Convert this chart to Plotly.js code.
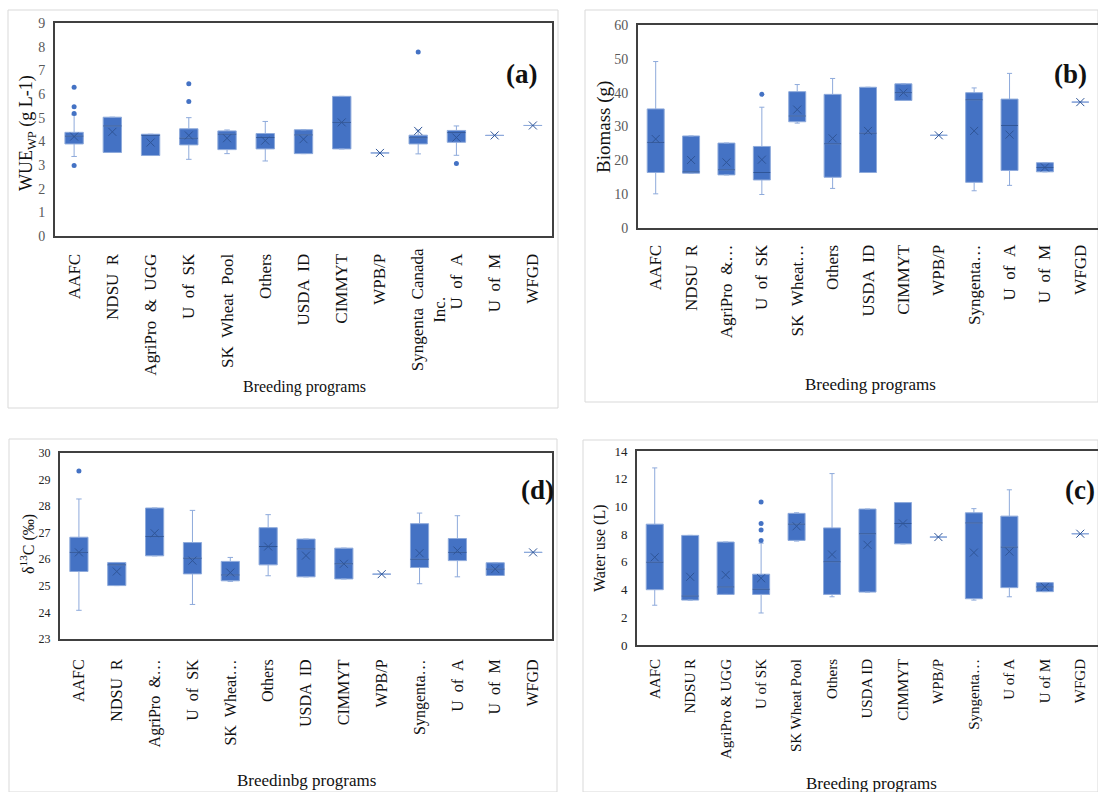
<!DOCTYPE html>
<html>
<head>
<meta charset="utf-8">
<script src="https://cdn.plot.ly/plotly-3.0.1.min.js"></script>
<style>html,body{margin:0;padding:0;background:#fff;}#chart{width:1098px;height:792px;}</style>
</head>
<body>
<div id="chart"></div>
<script>
// ---------- Categories ----------
const catA = ["AAFC","NDSU R","AgriPro & UGG","U of SK","SK Wheat Pool","Others","USDA ID","CIMMYT","WPB/P","Syngenta Canada<br>Inc.","U of A","U of M","WFGD"];
const catB = ["AAFC","NDSU R","AgriPro &…","U of SK","SK Wheat…","Others","USDA ID","CIMMYT","WPB/P","Syngenta…","U of A","U of M","WFGD"];
const catD = ["AAFC","NDSU R","AgriPro &…","U of SK","SK Wheat…","Others","USDA ID","CIMMYT","WPB/P","Syngenta…","U of A","U of M","WFGD"];
const catC = ["AAFC","NDSU R","AgriPro & UGG","U of SK","SK Wheat Pool","Others","USDA ID","CIMMYT","WPB/P","Syngenta…","U of A","U of M","WFGD"];

// ---------- (a) WUE ----------
const aQ1   = [3.89, 3.53, 3.40, 3.85, 3.65, 3.68, 3.48, 3.68, 3.51, 3.89, 3.96, 4.25, 4.67];
const aMed  = [4.22, 4.65, 4.25, 4.13, 4.30, 4.16, 4.27, 4.80, 3.51, 4.15, 4.37, 4.25, 4.67];
const aQ3   = [4.38, 5.02, 4.30, 4.53, 4.44, 4.33, 4.49, 5.90, 3.51, 4.26, 4.46, 4.25, 4.67];
const aLo   = [3.36, 3.53, 3.40, 3.24, 3.48, 3.17, 3.48, 3.68, 3.51, 3.47, 3.41, 4.25, 4.67];
const aHi   = [5.12, 5.02, 4.30, 5.00, 4.48, 4.84, 4.49, 5.90, 3.51, 4.48, 4.65, 4.25, 4.67];
const aMean = [4.20, 4.40, 3.95, 4.25, 4.13, 4.03, 4.09, 4.80, 3.51, 4.44, 4.16, 4.25, 4.67];
const aOutX = ["AAFC","AAFC","AAFC","AAFC","U of SK","U of SK","Syngenta Canada<br>Inc.","U of A"];
const aOutY = [6.29, 5.46, 5.18, 2.98, 5.68, 6.43, 7.77, 3.06];

// ---------- (b) Biomass ----------
const bQ1   = [16.4, 16.2, 15.7, 14.2, 31.4, 15.0, 16.4, 37.7, 27.4, 13.5, 17.0, 16.6, 37.2];
const bMed  = [25.3, 16.6, 17.2, 16.4, 33.1, 24.9, 28.0, 40.0, 27.4, 37.9, 30.3, 17.9, 37.2];
const bQ3   = [35.2, 27.2, 25.1, 24.1, 40.3, 39.5, 41.6, 42.6, 27.4, 40.0, 38.1, 19.3, 37.2];
const bLo   = [10.1, 16.2, 15.7, 9.9, 31.0, 11.7, 16.4, 37.7, 27.4, 11.0, 12.6, 16.6, 37.2];
const bHi   = [49.2, 27.2, 25.1, 35.7, 42.4, 44.2, 41.6, 42.6, 27.4, 41.4, 45.7, 19.3, 37.2];
const bMean = [26.3, 20.1, 19.4, 20.2, 35.0, 26.5, 28.7, 40.0, 27.4, 28.7, 27.6, 17.9, 37.2];
const bOutX = ["U of SK"];
const bOutY = [39.5];

// ---------- (d) delta13C ----------
const dQ1   = [25.54, 25.01, 26.13, 25.45, 25.19, 25.79, 25.34, 25.26, 25.44, 25.69, 25.95, 25.39, 26.26];
const dMed  = [26.26, 25.79, 26.86, 26.04, 25.41, 26.48, 26.39, 25.83, 25.44, 26.00, 26.26, 25.63, 26.26];
const dQ3   = [26.83, 25.88, 27.93, 26.63, 25.92, 27.19, 26.76, 26.42, 25.44, 27.34, 26.78, 25.87, 26.26];
const dLo   = [24.08, 25.01, 26.13, 24.30, 25.17, 25.38, 25.34, 25.26, 25.44, 25.08, 25.34, 25.39, 26.26];
const dHi   = [28.27, 25.88, 27.93, 27.84, 26.07, 27.68, 26.76, 26.42, 25.44, 27.74, 27.64, 25.87, 26.26];
const dMean = [26.26, 25.54, 26.98, 25.95, 25.50, 26.48, 26.14, 25.83, 25.44, 26.23, 26.33, 25.63, 26.26];
const dOutX = ["AAFC"];
const dOutY = [29.32];

// ---------- (c) Water use ----------
const cQ1   = [3.99, 3.24, 3.65, 3.65, 7.55, 3.65, 3.82, 7.30, 7.79, 3.34, 4.14, 3.85, 8.03];
const cMed  = [5.97, 3.53, 4.19, 4.02, 8.72, 6.01, 8.03, 8.77, 7.79, 8.81, 7.06, 4.19, 8.03];
const cQ3   = [8.72, 7.91, 7.43, 5.11, 9.50, 8.45, 9.81, 10.28, 7.79, 9.54, 9.30, 4.50, 8.03];
const cLo   = [2.87, 3.24, 3.65, 2.31, 7.50, 3.48, 3.82, 7.30, 7.79, 3.24, 3.48, 3.85, 8.03];
const cHi   = [12.78, 7.91, 7.43, 7.35, 9.54, 12.37, 9.81, 10.28, 7.79, 9.84, 11.20, 4.50, 8.03];
const cMean = [6.33, 4.92, 5.06, 4.82, 8.57, 6.53, 7.23, 8.77, 7.79, 6.67, 6.74, 4.19, 8.03];
const cOutX = ["U of SK","U of SK","U of SK","U of SK"];
const cOutY = [7.55, 8.30, 8.77, 10.32];

// ---------- Styles ----------
const BOX_FILL = '#4472c4';
const BOX_LINE = '#8eaadb';
const DARK = '#2f5597';
const SERIF = 'Liberation Serif, Times New Roman, serif';
const W = 1098, H = 792;
const px = x => x / W;
const py = y => 1 - y / H;
const NB = '\u00a0';

// wider word spacing (as in the original Excel rendering)
const spaced = s => s.replace(/ /g, ' ' + NB);
const plain = s => s;

function panel(cats, q1, med, q3, lo, hi, mean, outX, outY, xa, ya, medSize) {
  const traces = [];
  traces.push({
    type: 'box', x: cats, q1: q1, median: med, q3: q3, lowerfence: lo, upperfence: hi,
    xaxis: xa, yaxis: ya, fillcolor: BOX_FILL, line: {color: BOX_LINE, width: 1},
    whiskerwidth: 0.3, width: 0.48, boxpoints: false, hoverinfo: 'skip', showlegend: false
  });
  const mx = [], my = [];
  cats.forEach((c, i) => { if (q3[i] > q1[i]) { mx.push(c); my.push(med[i]); } });
  traces.push({
    type: 'scatter', mode: 'markers', x: mx, y: my, xaxis: xa, yaxis: ya,
    marker: {symbol: 'line-ew', size: medSize, color: DARK, line: {color: DARK, width: 1}},
    hoverinfo: 'skip', showlegend: false
  });
  traces.push({
    type: 'scatter', mode: 'markers', x: cats, y: mean, xaxis: xa, yaxis: ya,
    marker: {symbol: 'x-thin', size: 8, color: DARK, line: {color: DARK, width: 1}},
    hoverinfo: 'skip', showlegend: false
  });
  traces.push({
    type: 'scatter', mode: 'markers', x: outX, y: outY, xaxis: xa, yaxis: ya,
    marker: {symbol: 'circle', size: 5, color: BOX_FILL},
    hoverinfo: 'skip', showlegend: false
  });
  return traces;
}

const data = [].concat(
  panel(catA, aQ1, aMed, aQ3, aLo, aHi, aMean, aOutX, aOutY, 'x', 'y', 13),
  panel(catB, bQ1, bMed, bQ3, bLo, bHi, bMean, bOutX, bOutY, 'x2', 'y2', 12),
  panel(catD, dQ1, dMed, dQ3, dLo, dHi, dMean, dOutX, dOutY, 'x3', 'y3', 13),
  panel(catC, cQ1, cMed, cQ3, cLo, cHi, cMean, cOutX, cOutY, 'x4', 'y4', 12)
);

function xAxis(dom, anchor, cats, fsize, standoff, fmt) {
  // two-line labels are drawn as a centred annotation instead of a tick label
  const tt = cats.map(s => (s.indexOf('<br>') >= 0 ? '' : fmt(s)));
  return {
    domain: dom, anchor: anchor, type: 'category', categoryorder: 'array', categoryarray: cats,
    range: [-0.5, cats.length - 0.5], tickmode: 'array', tickvals: cats, ticktext: tt,
    showline: true, mirror: true, linecolor: '#404040', linewidth: 2,
    showgrid: false, zeroline: false, ticks: '', tickangle: -90,
    tickfont: {family: SERIF, size: fsize, color: '#111'}, ticklabelstandoff: standoff, fixedrange: true
  };
}
function yAxis(dom, anchor, range, dtick, fsize, fcolor) {
  return {
    domain: dom, anchor: anchor, range: range, dtick: dtick, tick0: range[0],
    showline: true, mirror: true, linecolor: '#404040', linewidth: 2,
    showgrid: false, zeroline: false, ticks: '',
    tickfont: {family: SERIF, size: fsize, color: fcolor}, ticklabelstandoff: 5, fixedrange: true
  };
}

const frame = (x0, y0, x1, y1) => ({
  type: 'rect', xref: 'paper', yref: 'paper', x0: px(x0), x1: px(x1), y0: py(y1), y1: py(y0),
  line: {color: '#d9d9d9', width: 1}, fillcolor: 'rgba(0,0,0,0)', layer: 'below'
});
const ann = (text, x, y, size, opts) => Object.assign({
  text: text, xref: 'paper', yref: 'paper', x: px(x), y: py(y), xanchor: 'center', yanchor: 'middle',
  showarrow: false, font: {family: SERIF, size: size, color: '#111'}
}, opts || {});

// two-line category label of panel (a): first line under its tick, second line centred beside it
const wrapped = catA.filter(s => s.indexOf('<br>') >= 0).map(s => ({
  text: spaced(s), xref: 'x', yref: 'paper', x: s, xshift: 10, y: py(310),
  xanchor: 'center', yanchor: 'middle', textangle: -90, align: 'center', showarrow: false,
  font: {family: SERIF, size: 17, color: '#111'}
}));

const layout = {
  width: W, height: H, margin: {l: 0, r: 0, t: 0, b: 0},
  paper_bgcolor: '#ffffff', plot_bgcolor: '#ffffff', showlegend: false, boxmode: 'overlay',
  xaxis:  xAxis([px(55), px(552)], 'y', catA, 17, 9, spaced),
  yaxis:  yAxis([py(236), py(23)], 'x', [0, 9], 1, 14, '#595959'),
  xaxis2: xAxis([px(638), 1], 'y2', catB, 17, 8, spaced),
  yaxis2: yAxis([py(228), py(25)], 'x2', [0, 60], 10, 14, '#595959'),
  xaxis3: xAxis([px(60), px(552)], 'y3', catD, 16, 12, spaced),
  yaxis3: yAxis([py(639), py(453)], 'x3', [23, 30], 1, 12, '#222'),
  xaxis4: xAxis([px(637), 1], 'y4', catC, 15, 6, plain),
  yaxis4: yAxis([py(645), py(451)], 'x4', [0, 14], 2, 13, '#222'),
  shapes: [
    frame(8, 10, 558, 408),
    frame(585, 10, 1098, 402),
    frame(9, 439, 557, 792),
    frame(583, 440, 1098, 792)
  ],
  annotations: [
    ann('WUE<sub>WP</sub> (g L-1)', 27, 133, 18, {textangle: -90}),
    ann('Biomass (g)', 604, 127, 19, {textangle: -90}),
    ann('δ<sup>13</sup>C (‰)', 27, 544, 16, {textangle: -90}),
    ann('Water use (L)', 600, 548, 16, {textangle: -90}),
    ann('Breeding programs', 304, 387, 16),
    ann('Breeding programs', 870, 384, 17),
    ann('Breedinbg programs', 306, 780, 17),
    ann('Breeding programs', 871, 783, 17),
    ann('<b>(a)</b>', 521, 74, 27),
    ann('<b>(b)</b>', 1070, 74, 27),
    ann('<b>(d)</b>', 537, 490, 27),
    ann('<b>(c)</b>', 1080, 490, 27)
  ].concat(wrapped)
};

Plotly.newPlot('chart', data, layout, {staticPlot: true, displayModeBar: false});
</script>
</body>
</html>
